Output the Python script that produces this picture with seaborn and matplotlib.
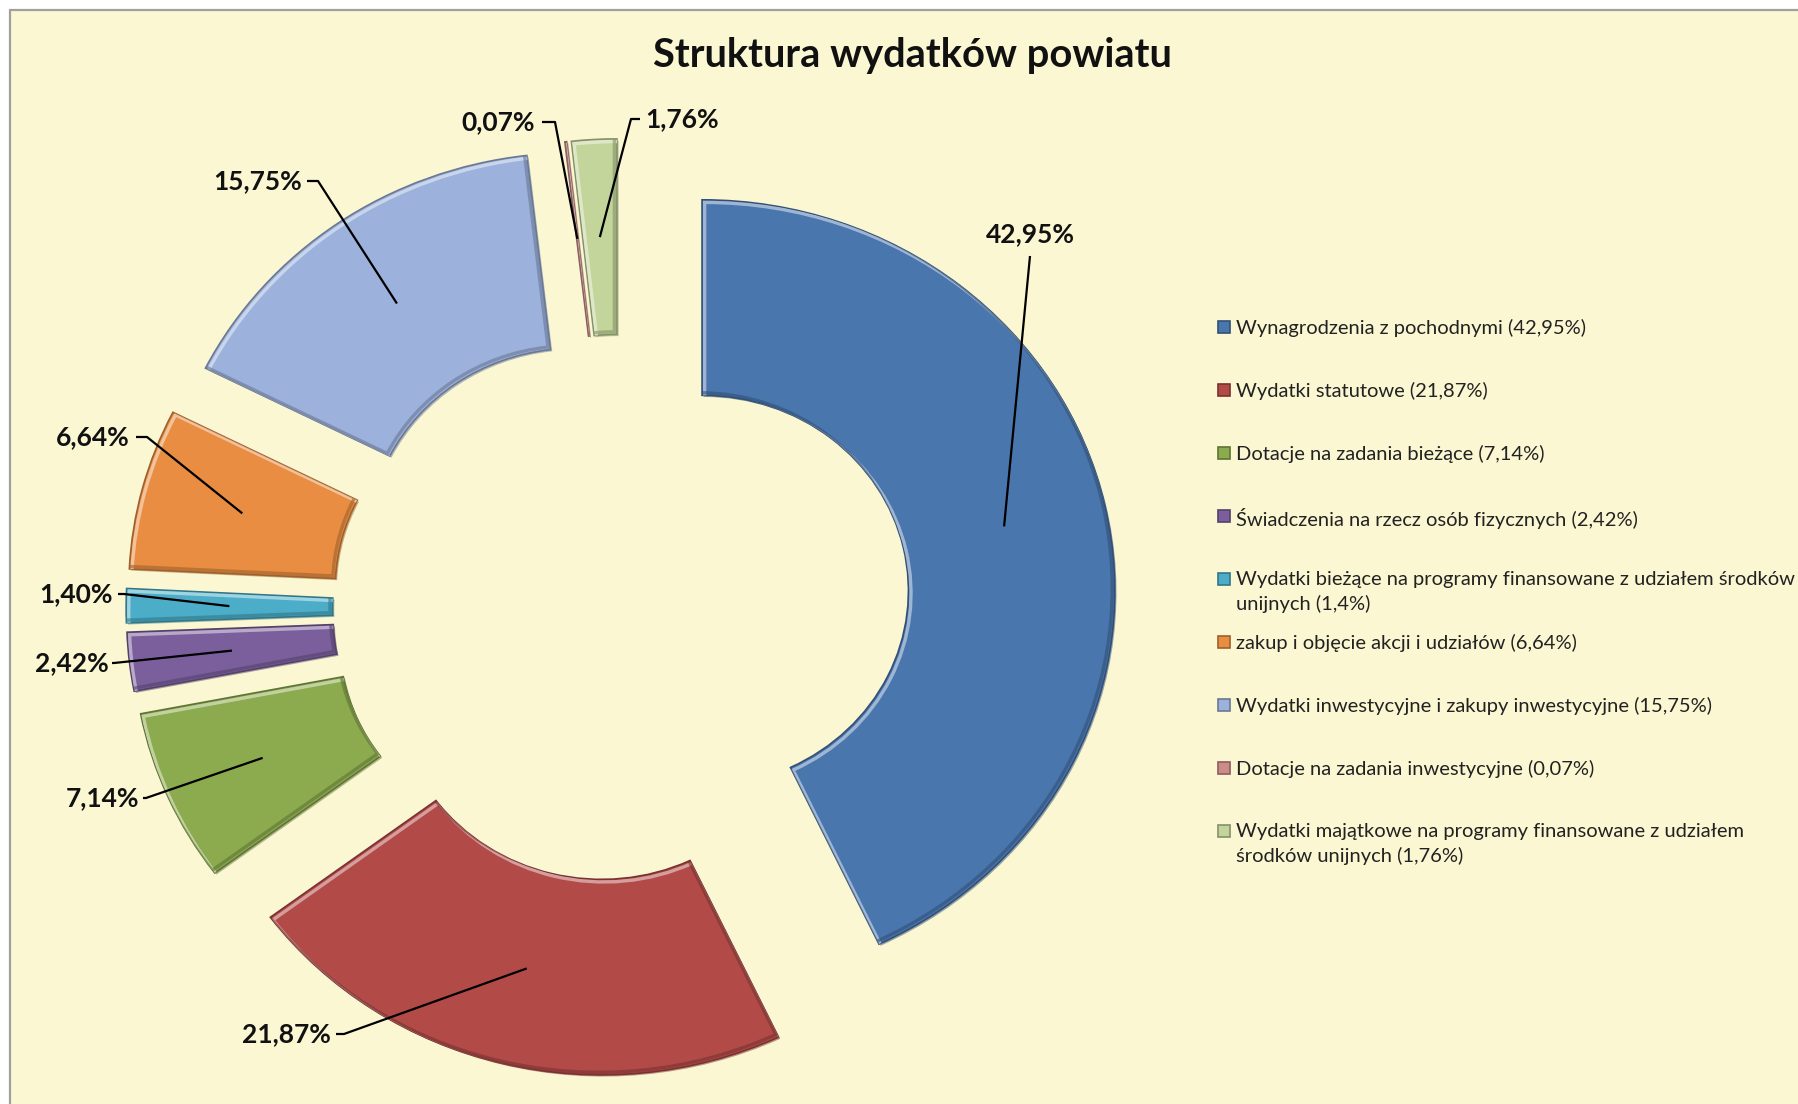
import numpy as np
import matplotlib
matplotlib.use("Agg")
import matplotlib.pyplot as plt
import matplotlib.patches as mpatches
import matplotlib.patheffects as pe
import matplotlib.transforms as mtransforms
import seaborn as sns

# ---------------- data ----------------
categories = [
    "Wynagrodzenia z pochodnymi",
    "Wydatki statutowe",
    "Dotacje na zadania bieżące",
    "Świadczenia na rzecz osób fizycznych",
    "Wydatki bieżące na programy finansowane z udziałem środków unijnych",
    "zakup i objęcie akcji i udziałów",
    "Wydatki inwestycyjne i zakupy inwestycyjne",
    "Dotacje na zadania inwestycyjne",
    "Wydatki majątkowe na programy finansowane z udziałem środków unijnych",
]
shares = [42.95, 21.87, 7.14, 2.42, 1.40, 6.64, 15.75, 0.07, 1.76]
legend_labels = [
    "Wynagrodzenia z pochodnymi (42,95%)",
    "Wydatki statutowe (21,87%)",
    "Dotacje na zadania bieżące (7,14%)",
    "Świadczenia na rzecz osób fizycznych (2,42%)",
    "Wydatki bieżące na programy finansowane z udziałem środków\nunijnych (1,4%)",
    "zakup i objęcie akcji i udziałów (6,64%)",
    "Wydatki inwestycyjne i zakupy inwestycyjne (15,75%)",
    "Dotacje na zadania inwestycyjne (0,07%)",
    "Wydatki majątkowe na programy finansowane z udziałem\nśrodków unijnych (1,76%)",
]
title = "Struktura wydatków powiatu"

# ---------------- style ----------------
sns.set_theme(style="white")
plt.rcParams["font.family"] = ["Lato", "DejaVu Sans"]

colors = sns.color_palette([
    "#4A76AE", "#B24A48", "#8CAA4E", "#7B5F9C", "#4BADC8",
    "#E88D42", "#9CB1DB", "#CC8C8A", "#C3D59B",
])
bg = "#FAF7D2"

W, H = 1798, 1104
fig = plt.figure(figsize=(W / 100, H / 100), dpi=100, facecolor="white")

# chart-area frame
frame = mpatches.Rectangle((10 / W, -0.01), 1.05, 1 - 10 / H + 0.01,
                           transform=fig.transFigure, facecolor=bg,
                           edgecolor="#A0A0A0", lw=1.6, zorder=-10)
fig.patches.append(frame)

# axes mapping: SX px per data unit horizontally, SY vertically
SX, SY = 412.8, 391.0
CX, CY = 621.5, 608.0
x0, x1, ytop, ybot = 15, 1215, 15, 1100
ax = fig.add_axes([x0 / W, (H - ybot) / H, (x1 - x0) / W, (ybot - ytop) / H])
ax.axis("off")
ax.patch.set_alpha(0)

explode = [0.2] * len(shares)
edge_cols = [tuple(np.array(c) * 0.68) for c in colors]
light_cols = [tuple(np.array(c) * 0.45 + 0.55) for c in colors]
wedges, _ = ax.pie(shares, colors=colors, startangle=90, counterclock=False,
                   explode=explode, radius=1.0,
                   wedgeprops=dict(width=0.5, linewidth=1.2))

ax.set_aspect("auto")
ax.set_xlim((x0 - CX) / SX, (x1 - CX) / SX)
ax.set_ylim((CY - ybot) / SY, (CY - ytop) / SY)

# bevel look: light stroke along upper-left edges, dark along lower-right
d_in = 2.6 / 100.0
for w, ec, lc in zip(wedges, edge_cols, light_cols):
    w.set_edgecolor(ec)
    w.set_path_effects([
        pe.SimplePatchShadow(offset=(1.2, -1.2), shadow_rgbFace=ec, alpha=0.5),
        pe.Normal(),
    ])
    for (dx, dy), col, a in (((d_in, -d_in), lc, 0.85), ((-d_in, d_in), ec, 0.6)):
        tr = ax.transData + mtransforms.ScaledTranslation(dx, dy, fig.dpi_scale_trans)
        b = mpatches.Wedge(w.center, w.r, w.theta1, w.theta2, width=w.width,
                           facecolor="none", edgecolor=col, lw=2.4, alpha=a,
                           transform=tr, zorder=w.get_zorder() + 0.1)
        ax.add_patch(b)
        b.set_clip_path(w)

# ---------------- data labels with leader lines ----------------
def px2d(px, py):
    return (px - CX) / SX, (CY - py) / SY

# (knee, hook end, text anchor, ha) in pixel layout of the chart
label_layout = [
    ((1030, 256), (1030, 256), (1030, 234), "center"),
    ((344, 1034), (336, 1034), (331, 1034), "right"),
    ((146, 798), (143, 798), (139, 798), "right"),
    ((114, 663), (112, 663), (109, 663), "right"),
    ((124, 594), (118, 594), (113, 594), "right"),
    ((147, 437), (136, 437), (130, 437), "right"),
    ((318, 181), (307, 181), (302, 181), "right"),
    ((555, 122), (542, 122), (535, 122), "right"),
    ((631, 119), (640, 119), (645, 119), "left"),
]

for w, v, (knee, hook, tpos, ha) in zip(wedges, shares, label_layout):
    cxw, cyw = w.center
    th = np.deg2rad(0.5 * (w.theta1 + w.theta2))
    r_mid = 0.75
    ix, iy = cxw + r_mid * np.cos(th), cyw + r_mid * np.sin(th)
    kx, ky = px2d(*knee)
    hx, hy = px2d(*hook)
    ax.plot([ix, kx, hx], [iy, ky, hy], color="black", lw=1.6,
            solid_capstyle="butt", zorder=5)
    tx, ty = px2d(*tpos)
    txt = f"{v:.2f}".replace(".", ",") + "%"
    ax.text(tx, ty, txt, ha=ha, va="center", fontsize=19,
            fontweight="bold", color="#111111", zorder=6)

# ---------------- title ----------------
fig.text(912 / W, 1 - 55 / H, title, ha="center", va="center",
         fontsize=28.7, fontweight="bold", color="#111111")

# ---------------- legend ----------------
leg_y = [327, 390, 453, 516, 579, 642, 705, 768, 831]
mk = 12
for c, ec, lab, y in zip(colors, edge_cols, legend_labels, leg_y):
    sq = mpatches.Rectangle((1218 / W, 1 - (y + mk / 2) / H), mk / W, mk / H,
                            transform=fig.transFigure, facecolor=c,
                            edgecolor=ec, lw=1.2)
    fig.patches.append(sq)
    fig.text(1236 / W, 1 - (y - 8) / H, lab, ha="left", va="top",
             fontsize=14.5, color="#222222", linespacing=1.45)

fig.savefig("out.png", dpi=100, facecolor="white")
